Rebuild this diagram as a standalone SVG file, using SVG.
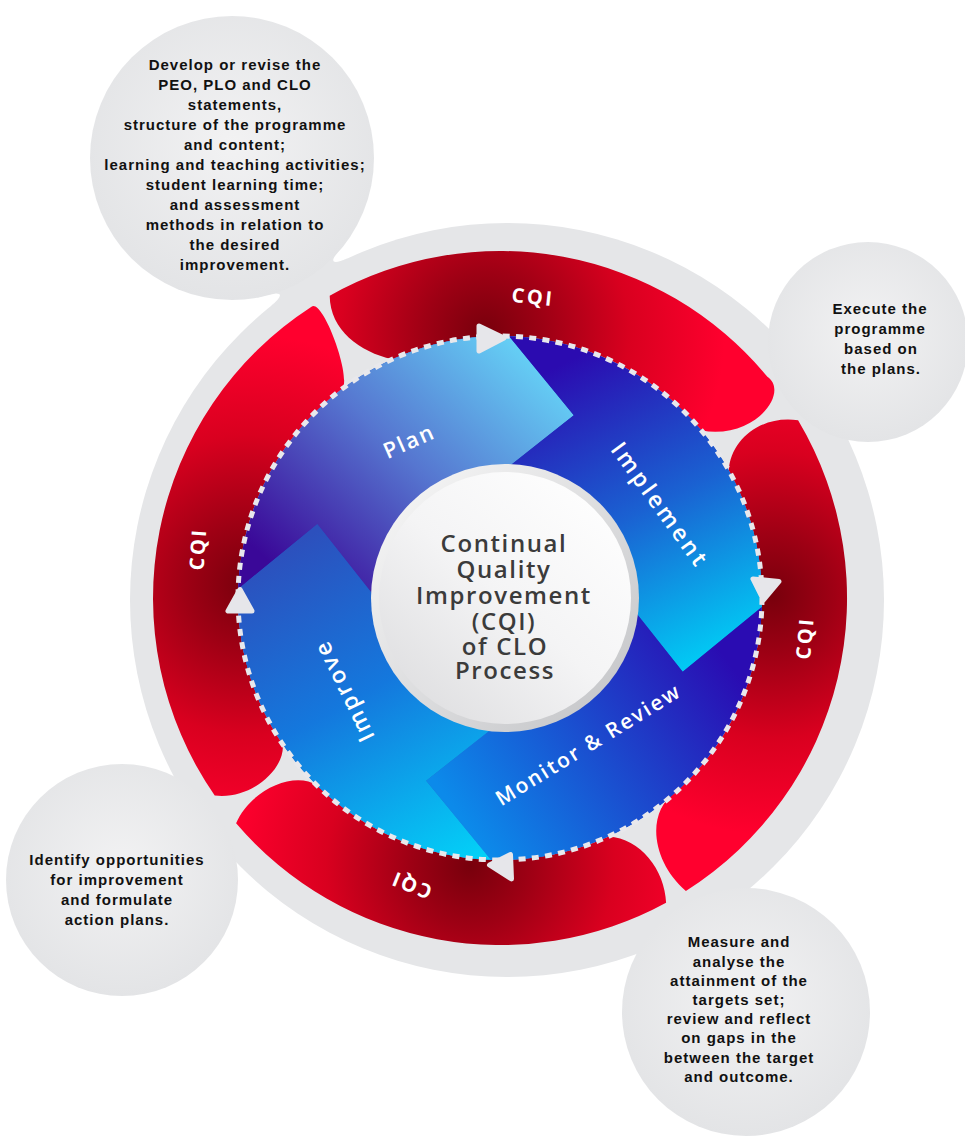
<svg xmlns="http://www.w3.org/2000/svg" width="965" height="1143" viewBox="0 0 965 1143">
<style>
.bt{font-family:"Liberation Sans",Arial,sans-serif;font-weight:bold;font-size:15px;letter-spacing:1px;fill:#111;text-anchor:middle}
.ct{font-family:"Open Sans","Liberation Sans",sans-serif;font-weight:600;font-size:24px;letter-spacing:1.6px;fill:#3b3b3b;text-anchor:middle}
.wl{font-family:"Open Sans","Liberation Sans",sans-serif;font-weight:600;fill:#fff;text-anchor:middle}
.cqi{font-family:"Open Sans","Liberation Sans",sans-serif;font-weight:700;font-size:20px;letter-spacing:2.5px;fill:#fff;text-anchor:middle}
.bub{fill:url(#gBub)}
.arw{fill:#e6e6ea;stroke:#e6e6ea;stroke-width:5;stroke-linejoin:round}
</style>
<defs>
<radialGradient id="gBub" cx="0.5" cy="0.45" r="0.55">
<stop offset="0" stop-color="#f2f2f3"/><stop offset="1" stop-color="#e3e4e6"/>
</radialGradient>
<radialGradient id="gRT" gradientUnits="userSpaceOnUse" cx="485" cy="332" r="240">
<stop offset="0" stop-color="#78000c"/><stop offset="0.25" stop-color="#9e0014"/><stop offset="0.6" stop-color="#d9001f"/><stop offset="1" stop-color="#ff002e"/>
</radialGradient>
<radialGradient id="gRR" gradientUnits="userSpaceOnUse" cx="772" cy="595" r="240">
<stop offset="0" stop-color="#78000c"/><stop offset="0.25" stop-color="#9e0014"/><stop offset="0.6" stop-color="#d9001f"/><stop offset="1" stop-color="#ff002e"/>
</radialGradient>
<radialGradient id="gRB" gradientUnits="userSpaceOnUse" cx="470" cy="866" r="240">
<stop offset="0" stop-color="#78000c"/><stop offset="0.25" stop-color="#9e0014"/><stop offset="0.6" stop-color="#d9001f"/><stop offset="1" stop-color="#ff002e"/>
</radialGradient>
<radialGradient id="gRL" gradientUnits="userSpaceOnUse" cx="248" cy="585" r="250">
<stop offset="0" stop-color="#78000c"/><stop offset="0.25" stop-color="#9e0014"/><stop offset="0.6" stop-color="#d9001f"/><stop offset="1" stop-color="#ff002e"/>
</radialGradient>
<linearGradient id="gPlan" gradientUnits="userSpaceOnUse" x1="530" y1="340" x2="300" y2="590">
<stop offset="0" stop-color="#66d6f8"/><stop offset="0.5" stop-color="#5676d0"/><stop offset="1" stop-color="#3a0898"/>
</linearGradient>
<linearGradient id="gImpl" gradientUnits="userSpaceOnUse" x1="570" y1="360" x2="720" y2="660">
<stop offset="0" stop-color="#2b0bb0"/><stop offset="0.5" stop-color="#1a62d2"/><stop offset="1" stop-color="#00cff6"/>
</linearGradient>
<linearGradient id="gMon" gradientUnits="userSpaceOnUse" x1="720" y1="650" x2="470" y2="830">
<stop offset="0" stop-color="#2a0cb2"/><stop offset="1" stop-color="#0c8aea"/>
</linearGradient>
<linearGradient id="gImp" gradientUnits="userSpaceOnUse" x1="300" y1="540" x2="480" y2="860">
<stop offset="0" stop-color="#2c50bd"/><stop offset="0.45" stop-color="#1478dd"/><stop offset="1" stop-color="#03d2f8"/>
</linearGradient>
<linearGradient id="gRim" gradientUnits="userSpaceOnUse" x1="390" y1="480" x2="630" y2="720">
<stop offset="0" stop-color="#f6f6f6"/><stop offset="1" stop-color="#c3c4c7"/>
</linearGradient>
<linearGradient id="gFace" gradientUnits="userSpaceOnUse" x1="610" y1="480" x2="400" y2="720">
<stop offset="0" stop-color="#ffffff"/><stop offset="0.5" stop-color="#f4f4f5"/><stop offset="1" stop-color="#dcdcde"/>
</linearGradient>
</defs>

<g id="ring-background">
<circle cx="507" cy="600" r="377" fill="#e5e6e8"/>
<path d="M346.7,241.6 Q318.9,271.2 348.3,258 L270.2,306.6 Q295.1,286 256.4,297.9 Z" fill="#e5e6e8"/>
</g>

<g id="bubble-plan">
<circle class="bub" cx="232" cy="158" r="142"/>
<text class="bt" x="235" y="70">Develop or revise the</text>
<text class="bt" x="235" y="90">PEO, PLO and CLO</text>
<text class="bt" x="235" y="110">statements,</text>
<text class="bt" x="235" y="130">structure of the programme</text>
<text class="bt" x="235" y="150">and content;</text>
<text class="bt" x="235" y="170">learning and teaching activities;</text>
<text class="bt" x="235" y="190">student learning time;</text>
<text class="bt" x="235" y="210">and assessment</text>
<text class="bt" x="235" y="230">methods in relation to</text>
<text class="bt" x="235" y="250">the desired</text>
<text class="bt" x="235" y="270">improvement.</text>
</g>

<g id="bubble-implement">
<circle class="bub" cx="868" cy="342" r="100"/>
<text class="bt" x="880" y="314">Execute the</text>
<text class="bt" x="880" y="334">programme</text>
<text class="bt" x="881" y="354">based on</text>
<text class="bt" x="881" y="374">the plans.</text>
</g>

<g id="bubble-improve">
<circle class="bub" cx="122" cy="880" r="116"/>
<text class="bt" x="117" y="865">Identify opportunities</text>
<text class="bt" x="117" y="885">for improvement</text>
<text class="bt" x="117" y="905">and formulate</text>
<text class="bt" x="117" y="925">action plans.</text>
</g>

<g id="bubble-monitor">
<circle class="bub" cx="746" cy="1012" r="124"/>
<text class="bt" x="739" y="947.3">Measure and</text>
<text class="bt" x="739" y="966.5">analyse the</text>
<text class="bt" x="739" y="985.7">attainment of the</text>
<text class="bt" x="739" y="1004.9">targets set;</text>
<text class="bt" x="739" y="1024.1">review and reflect</text>
<text class="bt" x="739" y="1043.3">on gaps in the</text>
<text class="bt" x="739" y="1062.5">between the target</text>
<text class="bt" x="739" y="1081.7">and outcome.</text>
</g>

<g id="cqi-top">
<path d="M329.7,295.7 A347,347 0 0 1 767.4,376.8 C790,392 755,440 701.6,430.6 A262,262 0 0 0 392.2,359.2 C360,352 330,330 329.7,295.7 Z" fill="url(#gRT)"/>
<text class="cqi" transform="translate(533,297) rotate(6)" x="0" y="7">CQI</text>
</g>
<g id="cqi-right">
<path d="M798.1,420.3 A347,347 0 0 1 685.9,891 C652,862 645,812 676.1,792 A262,262 0 0 0 728.7,470.2 C731,440 760,415 798.1,420.3 Z" fill="url(#gRR)"/>
<text class="cqi" transform="translate(805,638) rotate(-85)" x="0" y="7">CQI</text>
</g>
<g id="cqi-bottom">
<path d="M666.1,902.7 A347,347 0 0 1 236.1,823.3 C250,790 295,770 317.3,785.8 A262,262 0 0 0 608.7,836.4 C640,838 665,870 666.1,902.7 Z" fill="url(#gRB)"/>
<text class="cqi" transform="translate(411,885) rotate(202)" x="0" y="7">CQI</text>
</g>
<g id="cqi-left">
<path d="M214.7,795.5 A347,347 0 0 1 311.5,306.7 C323,297.8 353.1,380.4 341.6,389.3 A262,262 0 0 0 282.8,744.5 C285,770 250,800 214.7,795.5 Z" fill="url(#gRL)"/>
<text class="cqi" transform="translate(198,549) rotate(-86)" x="0" y="7">CQI</text>
</g>

<circle cx="500" cy="598" r="262" fill="#1f4fc8"/>

<g id="stage-plan">
<path d="M238.2,588.9 A262,262 0 0 1 509.1,336.2 L573.8,415.3 L504.5,470.1 A128,128 0 0 0 372.1,593.5 L317.3,524.2 Z" fill="url(#gPlan)"/>
<text class="wl" style="font-size:22px;letter-spacing:2px" transform="translate(409,441) rotate(-24)" x="0" y="8">Plan</text>
</g>
<g id="stage-implement">
<path d="M509.1,336.2 A262,262 0 0 1 761.8,607.1 L682.7,671.8 L627.9,602.5 A128,128 0 0 0 504.5,470.1 L573.8,415.3 Z" fill="url(#gImpl)"/>
<text class="wl" style="font-size:23px;letter-spacing:3px" transform="translate(660,505) rotate(54)" x="0" y="8">Implement</text>
</g>
<g id="stage-monitor">
<path d="M761.8,607.1 A262,262 0 0 1 490.9,859.8 L426.2,780.7 L495.5,725.9 A128,128 0 0 0 627.9,602.5 L682.7,671.8 Z" fill="url(#gMon)"/>
<text class="wl" style="font-size:21px;letter-spacing:2.1px" transform="translate(588,744) rotate(-31.5)" x="0" y="8">Monitor &amp; Review</text>
</g>
<g id="stage-improve">
<path d="M490.9,859.8 A262,262 0 0 1 238.2,588.9 L317.3,524.2 L372.1,593.5 A128,128 0 0 0 495.5,725.9 L426.2,780.7 Z" fill="url(#gImp)"/>
<text class="wl" style="font-size:23px;letter-spacing:2.5px" transform="translate(344,691) rotate(-116)" x="0" y="8">Improve</text>
</g>

<g id="connectors">
<circle cx="500" cy="598" r="262" fill="none" stroke="#e8e8ec" stroke-width="5" stroke-dasharray="7 6.3"/>
<polygon class="arw" points="479,326 504,338 479,351"/>
<polygon class="arw" points="753,579 779,581.5 763.5,600"/>
<polygon class="arw" points="510.5,854.5 511.5,879 489.5,865"/>
<polygon class="arw" points="228,611 252,611 240,589.5"/>
</g>

<g id="center">
<circle cx="505" cy="598" r="134" fill="url(#gRim)"/>
<circle cx="505" cy="598" r="126" fill="url(#gFace)"/>
<text class="ct" x="504" y="552">Continual</text>
<text class="ct" x="504" y="578">Quality</text>
<text class="ct" x="504" y="604">Improvement</text>
<text class="ct" x="504" y="630">(CQI)</text>
<text class="ct" x="505" y="655">of CLO</text>
<text class="ct" x="505" y="679">Process</text>
</g>
</svg>
